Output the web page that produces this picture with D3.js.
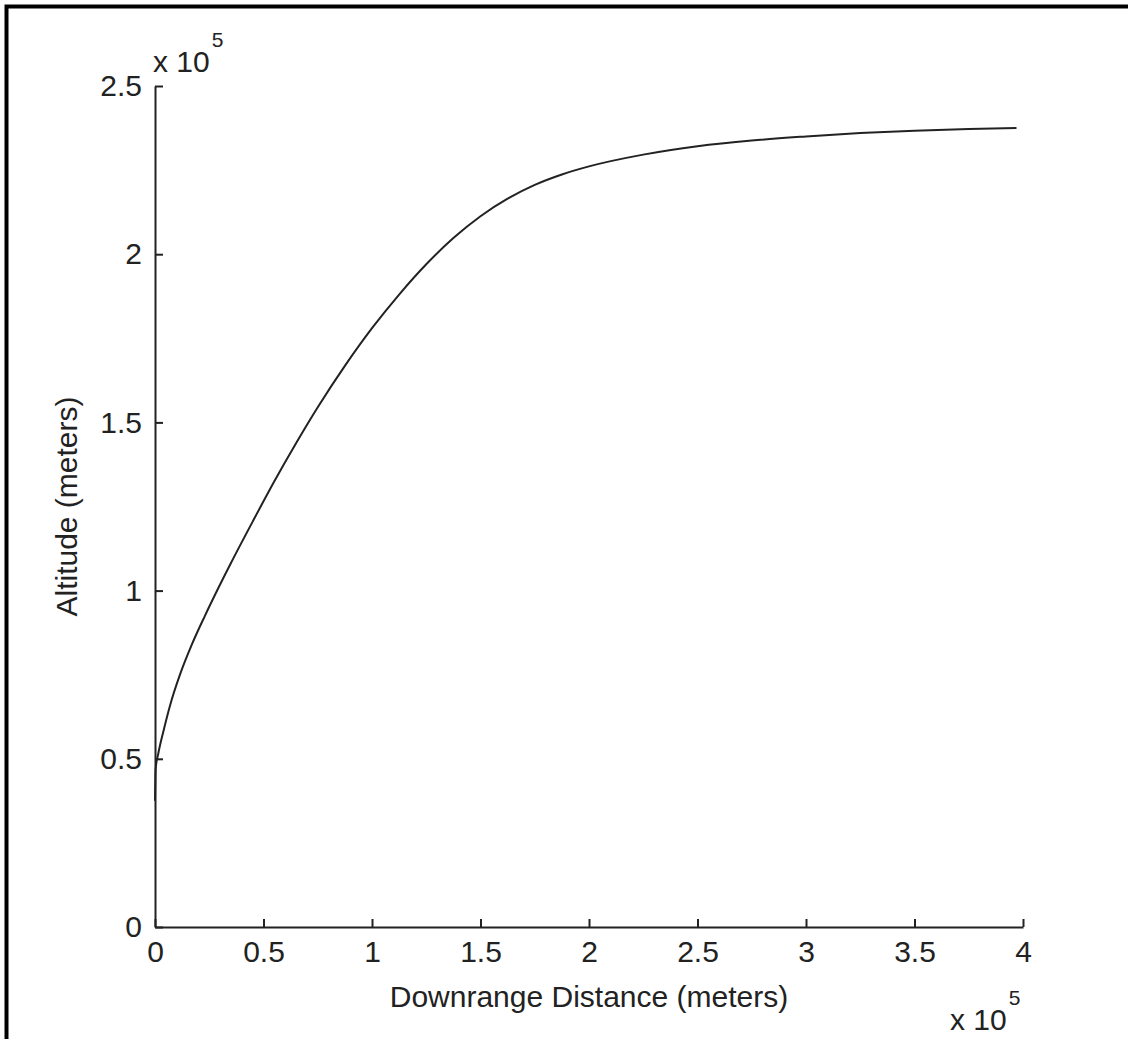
<!DOCTYPE html>
<html>
<head>
<meta charset="utf-8">
<script src="https://cdn.jsdelivr.net/npm/d3@7"></script>
<style>
  body { margin: 0; background: #fff; }
  svg text { font-family: "Liberation Sans", Arial, sans-serif; fill: #222; }
</style>
</head>
<body>
<div id="visual"></div>
<script>
// downrange distance (m) and altitude (m)
const distance = [0, 300, 1500, 4000, 7000, 11500, 17000, 23000, 28000, 35000, 45000, 55000,
  65000, 75000, 87500, 100000, 112500, 125000, 137500, 150000, 162500, 175000, 187500, 200000,
  225000, 250000, 275000, 300000, 325000, 350000, 375000, 397000];
const altitude = [37500, 47000, 51500, 58500, 66000, 75000, 84000, 92500, 99200, 108200, 120500, 132500,
  143800, 154500, 166800, 178000, 188000, 197000, 204800, 211300, 216500, 220600, 223700, 226100,
  229600, 232100, 233800, 235000, 236000, 236700, 237200, 237500];
const xTicks = [0, 50000, 100000, 150000, 200000, 250000, 300000, 350000, 400000];
const yTicks = [0, 50000, 100000, 150000, 200000, 250000];

const width = 1128, height = 1039;
const plotL = 155, plotR = 1023, plotT = 86, plotB = 927;

const svg = d3.select("#visual").append("svg")
  .attr("width", width)
  .attr("height", height);

// outer frame (only top/left visible in the reference)
svg.append("rect")
  .attr("x", 6.5).attr("y", 6.5)
  .attr("width", width + 20).attr("height", height + 20)
  .attr("fill", "none").attr("stroke", "#000").attr("stroke-width", 4);

const x = d3.scaleLinear().domain([0, 400000]).range([plotL, plotR]);
const y = d3.scaleLinear().domain([0, 250000]).range([plotB, plotT]);
const fmt = d => String(d / 1e5);

const xAxis = svg.append("g")
  .attr("transform", "translate(0," + plotB + ")")
  .call(d3.axisBottom(x).tickValues(xTicks).tickFormat(fmt).tickSizeInner(-8).tickSizeOuter(0).tickPadding(14));
const yAxis = svg.append("g")
  .attr("transform", "translate(" + plotL + ",0)")
  .call(d3.axisLeft(y).tickValues(yTicks).tickFormat(fmt).tickSizeInner(-8).tickSizeOuter(0).tickPadding(13));

[xAxis, yAxis].forEach(g => {
  g.select(".domain").attr("stroke", "#222").attr("stroke-width", 2);
  g.selectAll(".tick line").attr("stroke", "#222").attr("stroke-width", 2);
  g.selectAll(".tick text").attr("font-size", 30).attr("fill", "#222")
    .style("font-family", "Liberation Sans, Arial, sans-serif");
});

// curve
const line = d3.line().x(d => x(d[0])).y(d => y(d[1])).curve(d3.curveMonotoneX);
svg.append("path")
  .datum(distance.map((d, i) => [d, altitude[i]]))
  .attr("d", line)
  .attr("fill", "none")
  .attr("stroke", "#222")
  .attr("stroke-width", 2);

// axis labels
svg.append("text")
  .attr("x", (plotL + plotR) / 2).attr("y", 1007)
  .attr("text-anchor", "middle").attr("font-size", 30)
  .text("Downrange Distance (meters)");
svg.append("text")
  .attr("transform", "translate(77," + (plotT + plotB) / 2 + ") rotate(-90)")
  .attr("text-anchor", "middle").attr("font-size", 30)
  .text("Altitude (meters)");

// exponent multipliers
function multiplier(x0, yBase) {
  const t = svg.append("text").attr("x", x0).attr("y", yBase).attr("font-size", 30);
  t.append("tspan").text("x 10");
  t.append("tspan").attr("dy", -25).attr("dx", 2).attr("font-size", 21).text("5");
}
multiplier(153, 72);
multiplier(950, 1030);
</script>
</body>
</html>
